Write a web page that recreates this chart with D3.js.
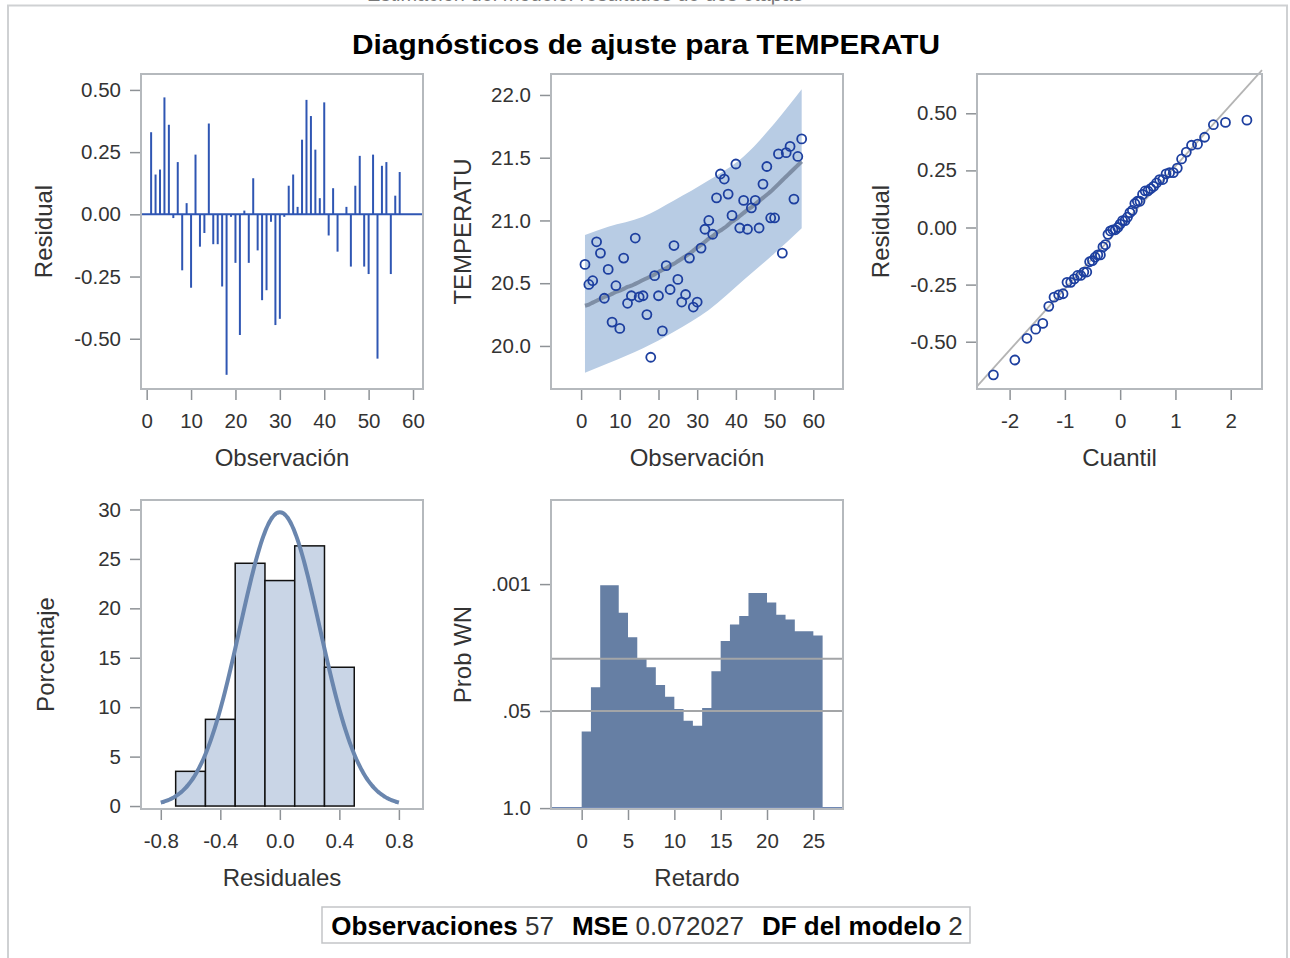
<!DOCTYPE html>
<html><head><meta charset="utf-8">
<script src="https://cdn.jsdelivr.net/npm/d3@7"></script>
<style>
body{margin:0;background:#fff}
svg{display:block}
text{font-family:"Liberation Sans",Arial,Helvetica,sans-serif}
</style>
</head><body>
<svg id="c" width="1290" height="958"></svg>
<script>
// ---------------- data ----------------
const observations = [1,2,3,4,5,6,7,8,9,10,11,12,13,14,15,16,17,18,19,20,21,22,23,24,25,26,27,28,29,30,31,32,33,34,35,36,37,38,39,40,41,42,43,44,45,46,47,48,49,50,51,52,53,54,55,56,57];
const residuals = [0.33,0.16,0.18,0.47,0.36,-0.015,0.21,-0.225,0.045,-0.295,
  0.24,-0.13,-0.075,0.365,-0.12,-0.12,-0.29,-0.645,-0.01,-0.195,
  -0.485,0.015,-0.195,0.145,-0.145,-0.345,-0.305,-0.03,-0.445,-0.42,
  -0.01,0.115,0.16,0.03,0.30,0.46,0.395,0.26,0.065,0.45,
  -0.085,0.105,-0.15,0.00,0.03,-0.21,0.115,0.235,-0.21,-0.24,
  0.24,-0.58,0.195,0.21,-0.24,0.075,0.17];
const temperature = [20.65,20.49,20.52,20.83,20.74,20.38,20.61,20.19,20.48,20.14,
  20.70,20.34,20.40,20.86,20.39,20.40,20.25,19.91,20.56,20.40,
  20.12,20.64,20.45,20.80,20.53,20.35,20.41,20.70,20.31,20.35,
  20.78,20.93,21.00,20.89,21.18,21.37,21.33,21.21,21.04,21.45,
  20.94,21.16,20.93,21.10,21.16,20.94,21.29,21.43,21.02,21.02,
  21.53,20.74,21.54,21.59,21.17,21.51,21.65];
const predicted = [20.32,20.33,20.345,20.36,20.375,20.39,20.40,20.415,20.43,20.44,
  20.455,20.47,20.48,20.495,20.51,20.525,20.54,20.555,20.57,20.59,
  20.605,20.62,20.64,20.655,20.675,20.695,20.715,20.735,20.76,20.785,
  20.805,20.83,20.855,20.875,20.90,20.92,20.94,20.965,20.99,21.01,
  21.035,21.06,21.085,21.105,21.13,21.155,21.18,21.205,21.23,21.26,
  21.29,21.32,21.35,21.38,21.41,21.44,21.47];
const bandObs   = [1, 7, 16, 24, 33, 42, 50, 57];
const bandUpper = [20.884, 20.95, 21.03, 21.16, 21.32, 21.51, 21.775, 22.045];
const bandLower = [19.787, 19.862, 19.982, 20.114, 20.287, 20.526, 20.739, 20.938];

const histEdges = [-0.7,-0.5,-0.3,-0.1,0.1,0.3,0.5];
const histPercent = [3.51, 8.77, 24.56, 22.81, 26.32, 14.04];
const normalMean = 0.0, normalSd = 0.2684;

const wnLags = [0,1,2,3,4,5,6,7,8,9,10,11,12,13,14,15,16,17,18,19,20,21,22,23,24,25];
const wnProb = [0.094,0.0241,0.00104,0.00104,0.00242,0.00514,0.0100,0.0130,0.0224,0.0322,
  0.0471,0.0676,0.0789,0.0456,0.0147,0.0058,0.00347,0.00268,0.00132,0.00132,
  0.00177,0.00257,0.00297,0.00427,0.00427,0.00487];
const wnRefLines = [0.05, 0.01];

const obsTicks = [0,10,20,30,40,50,60];
const residTicks = [-0.5,-0.25,0,0.25,0.5];
const tempTicks = [20.0,20.5,21.0,21.5,22.0];
const quantTicks = [-2,-1,0,1,2];
const pctTicks = [0,5,10,15,20,25,30];
const histTicks = [-0.8,-0.4,0,0.4,0.8];
const lagTicks = [0,5,10,15,20,25];
const wnTicks = [1.0, 0.05, 0.001];
const wnTickLabels = ["1.0", ".05", ".001"];

const title = "Diagnósticos de ajuste para TEMPERATU";
const header = "Estimación del modelo: resultados de dos etapas";
const footer = [["Observaciones",true],[" 57",false],["MSE",true],[" 0.072027",false],["DF del modelo",true],[" 2",false]];

// ---------------- drawing ----------------
const svg = d3.select("#c");
const FRAME = "#b5b9bd", TICK = "#8e9296", TXT = "#333";
const hy = s => s.replace(/\u2212/g, "-");

// clipped header line (only its lowest pixels show, as in the reference)
svg.append("text").attr("x", 585).attr("y", 1).attr("text-anchor","middle")
  .attr("font-size", 20).attr("fill", "#777").text(header);
svg.append("rect").attr("x",8).attr("y",5.5).attr("width",1279).attr("height",1000)
  .attr("fill","none").attr("stroke","#cfd1d3").attr("stroke-width",2);

svg.append("text").attr("x", 646).attr("y", 54).attr("text-anchor","middle")
  .attr("font-size", 28).attr("font-weight","bold").attr("fill","#000")
  .attr("textLength", 588).attr("lengthAdjust","spacingAndGlyphs").text(title);

function styleAxis(g){
  g.select(".domain").remove();
  g.selectAll(".tick line").attr("stroke", TICK).attr("stroke-width", 1.5);
  g.selectAll(".tick text").attr("fill", TXT).attr("font-size", 20.5).attr("font-family", '"Liberation Sans",Arial,sans-serif');
}
function panel(p){
  const g = svg.append("g");
  const bx = g.append("g").attr("transform", `translate(0,${p.y1})`)
    .call(d3.axisBottom(p.x).tickValues(p.xt).tickFormat(p.xf).tickSize(11).tickPadding(13).tickSizeOuter(0));
  styleAxis(bx);
  const by = g.append("g").attr("transform", `translate(${p.x0},0)`)
    .call(d3.axisLeft(p.y).tickValues(p.yt).tickFormat(p.yf).tickSize(11).tickPadding(9).tickSizeOuter(0));
  styleAxis(by);
  g.append("text").attr("x",(p.x0+p.x1)/2).attr("y",p.y1+77).attr("text-anchor","middle")
    .attr("font-size",24).attr("fill",TXT).text(p.xlab);
  g.append("text").attr("transform",`translate(${p.ylx},${(p.y0+p.y1)/2}) rotate(-90)`).attr("text-anchor","middle")
    .attr("font-size",24).attr("fill",TXT).text(p.ylab);
  const plot = g.append("g");
  g.append("rect").attr("x",p.x0).attr("y",p.y0).attr("width",p.x1-p.x0).attr("height",p.y1-p.y0)
    .attr("fill","none").attr("stroke",FRAME).attr("stroke-width",2);
  return plot;
}
const f2 = d => hy(d3.format(".2f")(d)), f1 = d => hy(d3.format(".1f")(d)), fi = d => hy(d3.format("d")(d));

// Panel 1: residual needles
{
  const x = d3.scaleLinear().domain([-1.28, 62.25]).range([141, 423]);
  const y = d3.scaleLinear().domain([-0.702, 0.564]).range([389, 74]);
  const g = panel({x, y, x0:141, x1:423, y0:74, y1:389, xt:obsTicks, yt:residTicks, xf:fi, yf:f2,
    xlab:"Observación", ylab:"Residual", ylx:52});
  g.selectAll("line.n").data(observations).join("line")
    .attr("x1", d=>x(d)).attr("x2", d=>x(d)).attr("y1", y(0)).attr("y2", (d,i)=>y(residuals[i]))
    .attr("stroke","#2f56b3").attr("stroke-width",2);
  g.append("line").attr("x1",141).attr("x2",423).attr("y1",y(0)).attr("y2",y(0))
    .attr("stroke","#2f56b3").attr("stroke-width",2);
}

// Panel 2: fit with prediction band
{
  const x = d3.scaleLinear().domain([-7.78, 67.68]).range([551, 843]);
  const y = d3.scaleLinear().domain([19.657, 22.167]).range([389, 74]);
  const g = panel({x, y, x0:551, x1:843, y0:74, y1:389, xt:obsTicks, yt:tempTicks, xf:fi, yf:f1,
    xlab:"Observación", ylab:"TEMPERATU", ylx:471});
  const band = d3.area().x(d=>x(d.o)).y0(d=>y(d.lo)).y1(d=>y(d.hi)).curve(d3.curveMonotoneX);
  g.append("path").datum(bandObs.map((o,i)=>({o, lo:bandLower[i], hi:bandUpper[i]})))
    .attr("d", band).attr("fill","#b8cce4");
  const line = d3.line().x((d,i)=>x(observations[i])).y(d=>y(d)).curve(d3.curveMonotoneX);
  g.append("path").datum(predicted).attr("d", line).attr("fill","none")
    .attr("stroke","#6f7e95").attr("stroke-width",4).attr("stroke-opacity",0.8);
  g.selectAll("circle").data(temperature).join("circle")
    .attr("cx",(d,i)=>x(observations[i])).attr("cy",d=>y(d)).attr("r",4.5)
    .attr("fill","none").attr("stroke","#1d3f9f").attr("stroke-width",1.8);
}

// Panel 3: QQ plot
function invNorm(p){
  const a=[-3.969683028665376e+01,2.209460984245205e+02,-2.759285104469687e+02,1.383577518672690e+02,-3.066479806614716e+01,2.506628277459239e+00];
  const b=[-5.447609879822406e+01,1.615858368580409e+02,-1.556989798598866e+02,6.680131188771972e+01,-1.328068155288572e+01];
  const c=[-7.784894002430293e-03,-3.223964580411365e-01,-2.400758277161838e+00,-2.549732539343734e+00,4.374664141464968e+00,2.938163982698783e+00];
  const d=[7.784695709041462e-03,3.224671290700398e-01,2.445134137142996e+00,3.754408661907416e+00];
  const pl=0.02425; let q,r;
  if(p<pl){q=Math.sqrt(-2*Math.log(p));return (((((c[0]*q+c[1])*q+c[2])*q+c[3])*q+c[4])*q+c[5])/((((d[0]*q+d[1])*q+d[2])*q+d[3])*q+1);}
  if(p>1-pl){q=Math.sqrt(-2*Math.log(1-p));return -(((((c[0]*q+c[1])*q+c[2])*q+c[3])*q+c[4])*q+c[5])/((((d[0]*q+d[1])*q+d[2])*q+d[3])*q+1);}
  q=p-0.5;r=q*q;return (((((a[0]*r+a[1])*r+a[2])*r+a[3])*r+a[4])*r+a[5])*q/(((((b[0]*r+b[1])*r+b[2])*r+b[3])*r+b[4])*r+1);
}
{
  const x = d3.scaleLinear().domain([-2.59, 2.566]).range([977, 1262]);
  const y = d3.scaleLinear().domain([-0.707, 0.672]).range([389, 74]);
  const g = panel({x, y, x0:977, x1:1262, y0:74, y1:389, xt:quantTicks, yt:residTicks, xf:fi, yf:f2,
    xlab:"Cuantil", ylab:"Residual", ylx:889});
  const sorted = residuals.slice().sort(d3.ascending);
  const n = sorted.length;
  const qq = sorted.map((r,i)=>({q: invNorm((i+1-0.375)/(n+0.25)), r}));
  const qs = x.domain();
  g.append("line").attr("x1",x(qs[0])).attr("x2",x(qs[1]))
    .attr("y1",y(normalMean+normalSd*qs[0])).attr("y2",y(normalMean+normalSd*qs[1]))
    .attr("stroke","#b4b4b4").attr("stroke-width",1.8);
  g.selectAll("circle").data(qq).join("circle")
    .attr("cx",d=>x(d.q)).attr("cy",d=>y(d.r)).attr("r",4.5)
    .attr("fill","none").attr("stroke","#1d3f9f").attr("stroke-width",1.8);
}

// Panel 4: histogram
{
  const x = d3.scaleLinear().domain([-0.933, 0.962]).range([141, 423]);
  const y = d3.scaleLinear().domain([-0.3, 30.96]).range([809, 500]);
  const g = panel({x, y, x0:141, x1:423, y0:500, y1:809, xt:histTicks, yt:pctTicks, xf:f1, yf:fi,
    xlab:"Residuales", ylab:"Porcentaje", ylx:54});
  g.selectAll("rect.b").data(histPercent).join("rect")
    .attr("x",(d,i)=>x(histEdges[i])).attr("width",(d,i)=>x(histEdges[i+1])-x(histEdges[i]))
    .attr("y",d=>y(d)).attr("height",d=>y(0)-y(d))
    .attr("fill","#c9d5e6").attr("stroke","#111").attr("stroke-width",1.5);
  const bw = histEdges[1]-histEdges[0];
  const xs = d3.range(-0.8, 0.8001, 0.01);
  const pdf = v => 100*bw*Math.exp(-0.5*((v-normalMean)/normalSd)**2)/(normalSd*Math.sqrt(2*Math.PI));
  g.append("path").datum(xs).attr("d", d3.line().x(d=>x(d)).y(d=>y(pdf(d))).curve(d3.curveBasis))
    .attr("fill","none").attr("stroke","#6a86ae").attr("stroke-width",4);
}

// Panel 5: white noise probability
{
  const x = d3.scaleLinear().domain([-3.31, 28.2]).range([551, 843]);
  const y = d3.scaleLog().domain([1.028, 7.48e-5]).range([809, 500]);
  const g = panel({x, y, x0:551, x1:843, y0:500, y1:809, xt:lagTicks, yt:wnTicks, xf:fi,
    yf:d=>wnTickLabels[wnTicks.indexOf(d)], xlab:"Retardo", ylab:"Prob WN", ylx:471});
  const pts = wnLags.map((l,i)=>({l, p:wnProb[i]}));
  pts.push({l: wnLags[wnLags.length-1]+1, p: wnProb[wnProb.length-1]});
  g.append("path").datum(pts)
    .attr("d", d3.area().x(d=>x(d.l)).y0(y(1)).y1(d=>y(d.p)).curve(d3.curveStepAfter))
    .attr("fill","#667fa4");
  g.selectAll("line.ref").data(wnRefLines).join("line")
    .attr("x1",551).attr("x2",843).attr("y1",d=>y(d)).attr("y2",d=>y(d))
    .attr("stroke","#a3a5a7").attr("stroke-width",2);
  g.append("line").attr("x1",551).attr("x2",843).attr("y1",y(1)).attr("y2",y(1))
    .attr("stroke","#7088b4").attr("stroke-width",2);
}

// footer box
{
  const t = svg.append("text").attr("x",647).attr("y",935).attr("text-anchor","middle")
    .attr("font-size",26).attr("fill","#111").attr("xml:space","preserve");
  footer.forEach((f,i)=>{
    t.append("tspan").attr("font-weight", f[1]?"bold":"normal").attr("fill", f[1]?"#000":"#333")
      .attr("dx", (i===2||i===4)?18:0).text(f[0]);
  });
  svg.append("rect").attr("x",322).attr("y",907).attr("width",648).attr("height",36)
    .attr("fill","none").attr("stroke","#c3c5c7").attr("stroke-width",1.5);
}
</script>
</body></html>
